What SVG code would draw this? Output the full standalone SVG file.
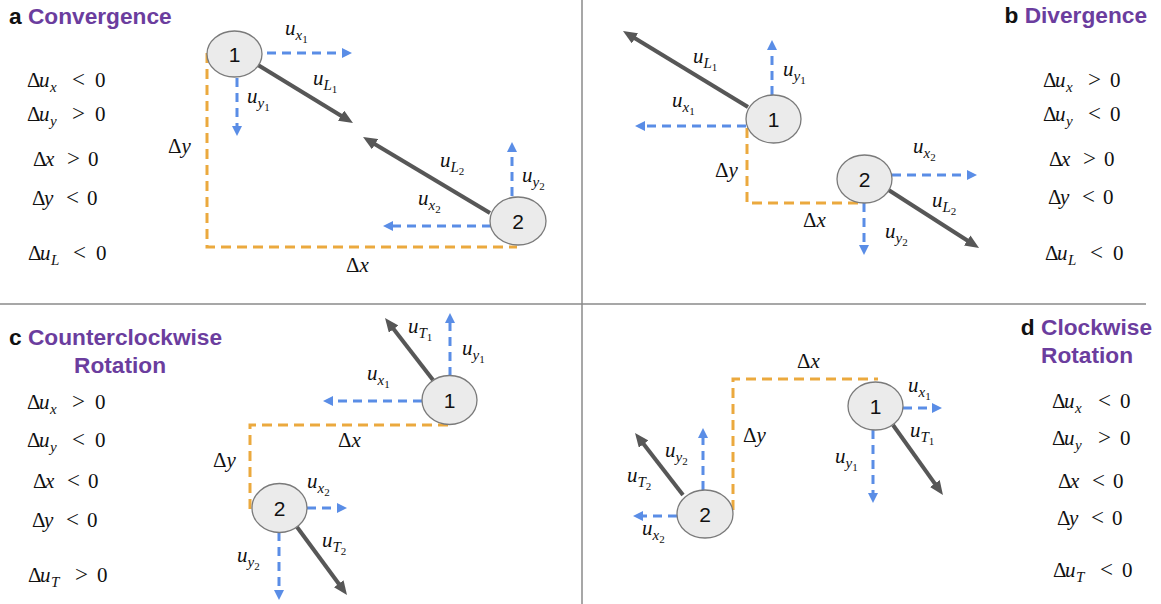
<svg xmlns="http://www.w3.org/2000/svg" width="1161" height="604" viewBox="0 0 1161 604">
<style>
.bg{fill:#fff}
.div{stroke:#8a8a8a;stroke-width:1.5;fill:none}
.title{font-family:"Liberation Sans",Arial,sans-serif;font-weight:bold;font-size:22.7px;fill:#111}
.pur{fill:#6b3d9e}
.m{font-family:"Liberation Serif","Times New Roman",serif;font-size:21px;fill:#111}
.op{font-size:23px}
.i{font-style:italic}
.s1{font-size:15px}
.s2{font-size:11px;font-style:normal}
.num{font-family:"Liberation Sans",Arial,sans-serif;font-size:21px;fill:#111;text-anchor:middle}
.node{fill:#ebebeb;stroke:#7a7a7a;stroke-width:1.3}
.dxy{fill:none;stroke:#eba93e;stroke-width:3;stroke-dasharray:10 6}
.vb{fill:none;stroke:#5a8de6;stroke-width:3;stroke-dasharray:9 6;marker-end:url(#ab)}
.vg{fill:none;stroke:#575757;stroke-width:4;marker-end:url(#ag)}
</style>
<defs>
<marker id="ab" viewBox="0 0 10 10" refX="1" refY="5" markerWidth="10" markerHeight="10" markerUnits="userSpaceOnUse" orient="auto"><path d="M0,0 L10,5 L0,10 z" fill="#5a8de6"/></marker>
<marker id="ag" viewBox="0 0 14 12" refX="1" refY="6" markerWidth="14" markerHeight="12" markerUnits="userSpaceOnUse" orient="auto"><path d="M0,0 L14,6 L0,12 z" fill="#575757"/></marker>
</defs>
<rect class="bg" x="0" y="0" width="1161" height="604"/>
<g id="dividers">
<line class="div" x1="582" y1="0" x2="582" y2="604"/>
<line class="div" x1="0" y1="304" x2="1146" y2="304"/>
</g>

<g id="titles">
<text class="title" x="9" y="24">a <tspan class="pur">Convergence</tspan></text>
<text class="title" x="1147" y="23" text-anchor="end">b <tspan class="pur">Divergence</tspan></text>
<text class="title" x="9" y="345">c <tspan class="pur">Counterclockwise</tspan></text>
<text class="title pur" x="120" y="373" text-anchor="middle">Rotation</text>
<text class="title" x="1152" y="335" text-anchor="end">d <tspan class="pur">Clockwise</tspan></text>
<text class="title pur" x="1087" y="363" text-anchor="middle">Rotation</text>
</g>

<g id="conditions">
<text class="m" y="87"><tspan x="27">Δ</tspan><tspan class="i" x="39">u</tspan><tspan class="i s1" x="50" dy="5">x</tspan><tspan class="op" x="72" dy="-5">&lt;</tspan><tspan x="95">0</tspan></text>
<text class="m" y="121"><tspan x="27">Δ</tspan><tspan class="i" x="39">u</tspan><tspan class="i s1" x="50" dy="5">y</tspan><tspan class="op" x="72" dy="-5">&gt;</tspan><tspan x="95">0</tspan></text>
<text class="m" y="166"><tspan x="33">Δ</tspan><tspan class="i" x="45">x</tspan><tspan class="op" x="67">&gt;</tspan><tspan x="88">0</tspan></text>
<text class="m" y="205"><tspan x="32">Δ</tspan><tspan class="i" x="44">y</tspan><tspan class="op" x="66">&lt;</tspan><tspan x="87">0</tspan></text>
<text class="m" y="260"><tspan x="28">Δ</tspan><tspan class="i" x="40">u</tspan><tspan class="i s1" x="51" dy="5">L</tspan><tspan class="op" x="73" dy="-5">&lt;</tspan><tspan x="96">0</tspan></text>

<text class="m" y="87"><tspan x="1043">Δ</tspan><tspan class="i" x="1055">u</tspan><tspan class="i s1" x="1066" dy="5">x</tspan><tspan class="op" x="1088" dy="-5">&gt;</tspan><tspan x="1110">0</tspan></text>
<text class="m" y="121"><tspan x="1043">Δ</tspan><tspan class="i" x="1055">u</tspan><tspan class="i s1" x="1066" dy="5">y</tspan><tspan class="op" x="1088" dy="-5">&lt;</tspan><tspan x="1110">0</tspan></text>
<text class="m" y="166"><tspan x="1049">Δ</tspan><tspan class="i" x="1061">x</tspan><tspan class="op" x="1083">&gt;</tspan><tspan x="1104">0</tspan></text>
<text class="m" y="204"><tspan x="1048">Δ</tspan><tspan class="i" x="1060">y</tspan><tspan class="op" x="1082">&lt;</tspan><tspan x="1103">0</tspan></text>
<text class="m" y="260"><tspan x="1045">Δ</tspan><tspan class="i" x="1057">u</tspan><tspan class="i s1" x="1068" dy="5">L</tspan><tspan class="op" x="1090" dy="-5">&lt;</tspan><tspan x="1113">0</tspan></text>

<text class="m" y="409"><tspan x="27">Δ</tspan><tspan class="i" x="39">u</tspan><tspan class="i s1" x="50" dy="5">x</tspan><tspan class="op" x="72" dy="-5">&gt;</tspan><tspan x="95">0</tspan></text>
<text class="m" y="447"><tspan x="27">Δ</tspan><tspan class="i" x="39">u</tspan><tspan class="i s1" x="50" dy="5">y</tspan><tspan class="op" x="72" dy="-5">&lt;</tspan><tspan x="95">0</tspan></text>
<text class="m" y="488"><tspan x="33">Δ</tspan><tspan class="i" x="45">x</tspan><tspan class="op" x="67">&lt;</tspan><tspan x="88">0</tspan></text>
<text class="m" y="527"><tspan x="32">Δ</tspan><tspan class="i" x="44">y</tspan><tspan class="op" x="66">&lt;</tspan><tspan x="87">0</tspan></text>
<text class="m" y="582"><tspan x="28">Δ</tspan><tspan class="i" x="40">u</tspan><tspan class="i s1" x="51" dy="5">T</tspan><tspan class="op" x="75" dy="-5">&gt;</tspan><tspan x="97">0</tspan></text>

<text class="m" y="408"><tspan x="1052">Δ</tspan><tspan class="i" x="1064">u</tspan><tspan class="i s1" x="1075" dy="5">x</tspan><tspan class="op" x="1098" dy="-5">&lt;</tspan><tspan x="1120">0</tspan></text>
<text class="m" y="445"><tspan x="1052">Δ</tspan><tspan class="i" x="1064">u</tspan><tspan class="i s1" x="1075" dy="5">y</tspan><tspan class="op" x="1098" dy="-5">&gt;</tspan><tspan x="1120">0</tspan></text>
<text class="m" y="488"><tspan x="1058">Δ</tspan><tspan class="i" x="1070">x</tspan><tspan class="op" x="1092">&lt;</tspan><tspan x="1113">0</tspan></text>
<text class="m" y="525"><tspan x="1057">Δ</tspan><tspan class="i" x="1069">y</tspan><tspan class="op" x="1091">&lt;</tspan><tspan x="1112">0</tspan></text>
<text class="m" y="577"><tspan x="1053">Δ</tspan><tspan class="i" x="1065">u</tspan><tspan class="i s1" x="1076" dy="5">T</tspan><tspan class="op" x="1100" dy="-5">&lt;</tspan><tspan x="1122">0</tspan></text>
</g>

<g id="connectors">
<path class="dxy" d="M207,53 V247 H517"/>
<line class="vb" x1="267" y1="53" x2="343" y2="53"/>
<line class="vb" x1="237" y1="78" x2="237" y2="127"/>
<line class="vb" x1="491" y1="226" x2="392" y2="226"/>
<line class="vb" x1="512" y1="196" x2="512" y2="151"/>
<line class="vg" x1="258" y1="65" x2="341.9" y2="116.2"/>
<line class="vg" x1="490" y1="213" x2="374.2" y2="143.7"/>
<path class="dxy" d="M747,128 V203 H863"/>
<line class="vb" x1="746" y1="126" x2="644" y2="126"/>
<line class="vb" x1="772" y1="95" x2="772" y2="49"/>
<line class="vb" x1="892" y1="175" x2="968" y2="175"/>
<line class="vb" x1="864" y1="203" x2="864" y2="246"/>
<line class="vg" x1="748" y1="107" x2="634.1" y2="37.8"/>
<line class="vg" x1="887" y1="189" x2="968.1" y2="241"/>
<path class="dxy" d="M448,425 H250 V512"/>
<line class="vb" x1="422" y1="401" x2="332" y2="401"/>
<line class="vb" x1="450" y1="376" x2="450" y2="322"/>
<line class="vb" x1="307" y1="508" x2="338" y2="508"/>
<line class="vb" x1="279" y1="532" x2="279" y2="591"/>
<line class="vg" x1="433" y1="380" x2="393" y2="328.3"/>
<line class="vg" x1="297" y1="527" x2="339.3" y2="584.5"/>
<path class="dxy" d="M733,510 V379 H878"/>
<line class="vb" x1="903" y1="408" x2="933" y2="408"/>
<line class="vb" x1="873" y1="430" x2="873" y2="494"/>
<line class="vb" x1="703" y1="490" x2="703" y2="437"/>
<line class="vb" x1="677" y1="516" x2="642" y2="516"/>
<line class="vg" x1="893" y1="425" x2="935.4" y2="484.4"/>
<line class="vg" x1="683" y1="495" x2="643" y2="443.3"/>
</g>

<g id="a-node1"><ellipse class="node" cx="234.5" cy="54" rx="27.5" ry="23"/><text class="num" x="234.5" y="61.5">1</text></g>
<g id="a-node2"><ellipse class="node" cx="518" cy="221" rx="28" ry="24"/><text class="num" x="518" y="228.5">2</text></g>
<g id="b-node1"><ellipse class="node" cx="773.5" cy="119" rx="27.5" ry="24"/><text class="num" x="773.5" y="126.5">1</text></g>
<g id="b-node2"><ellipse class="node" cx="864.5" cy="179" rx="27.5" ry="24"/><text class="num" x="864.5" y="186.5">2</text></g>
<g id="c-node1"><ellipse class="node" cx="449.5" cy="400" rx="27.5" ry="24.5"/><text class="num" x="449.5" y="407.5">1</text></g>
<g id="c-node2"><ellipse class="node" cx="279.5" cy="508" rx="27.5" ry="24.5"/><text class="num" x="279.5" y="515.5">2</text></g>
<g id="d-node1"><ellipse class="node" cx="875.5" cy="406" rx="27.5" ry="24"/><text class="num" x="875.5" y="413.5">1</text></g>
<g id="d-node2"><ellipse class="node" cx="705" cy="514" rx="28" ry="24"/><text class="num" x="705" y="521.5">2</text></g>

<g id="labels">
<text class="m" x="285" y="35"><tspan class="i">u</tspan><tspan class="i s1" dy="5">x</tspan><tspan class="s2" dy="3">1</tspan></text>
<text class="m" x="313" y="85"><tspan class="i">u</tspan><tspan class="i s1" dy="5">L</tspan><tspan class="s2" dy="3">1</tspan></text>
<text class="m" x="247" y="103"><tspan class="i">u</tspan><tspan class="i s1" dy="5">y</tspan><tspan class="s2" dy="3">1</tspan></text>
<text class="m" x="440" y="167"><tspan class="i">u</tspan><tspan class="i s1" dy="5">L</tspan><tspan class="s2" dy="3">2</tspan></text>
<text class="m" x="522" y="182"><tspan class="i">u</tspan><tspan class="i s1" dy="5">y</tspan><tspan class="s2" dy="3">2</tspan></text>
<text class="m" x="418" y="205"><tspan class="i">u</tspan><tspan class="i s1" dy="5">x</tspan><tspan class="s2" dy="3">2</tspan></text>
<text class="m" x="168" y="153">Δ<tspan class="i">y</tspan></text>
<text class="m" x="346" y="272">Δ<tspan class="i">x</tspan></text>
<text class="m" x="693" y="63"><tspan class="i">u</tspan><tspan class="i s1" dy="5">L</tspan><tspan class="s2" dy="3">1</tspan></text>
<text class="m" x="783" y="76"><tspan class="i">u</tspan><tspan class="i s1" dy="5">y</tspan><tspan class="s2" dy="3">1</tspan></text>
<text class="m" x="672" y="107"><tspan class="i">u</tspan><tspan class="i s1" dy="5">x</tspan><tspan class="s2" dy="3">1</tspan></text>
<text class="m" x="715" y="177">Δ<tspan class="i">y</tspan></text>
<text class="m" x="803" y="227">Δ<tspan class="i">x</tspan></text>
<text class="m" x="913" y="153"><tspan class="i">u</tspan><tspan class="i s1" dy="5">x</tspan><tspan class="s2" dy="3">2</tspan></text>
<text class="m" x="932" y="207"><tspan class="i">u</tspan><tspan class="i s1" dy="5">L</tspan><tspan class="s2" dy="3">2</tspan></text>
<text class="m" x="885" y="238"><tspan class="i">u</tspan><tspan class="i s1" dy="5">y</tspan><tspan class="s2" dy="3">2</tspan></text>
<text class="m" x="408" y="333"><tspan class="i">u</tspan><tspan class="i s1" dy="5">T</tspan><tspan class="s2" dy="3">1</tspan></text>
<text class="m" x="462" y="355"><tspan class="i">u</tspan><tspan class="i s1" dy="5">y</tspan><tspan class="s2" dy="3">1</tspan></text>
<text class="m" x="367" y="380"><tspan class="i">u</tspan><tspan class="i s1" dy="5">x</tspan><tspan class="s2" dy="3">1</tspan></text>
<text class="m" x="338" y="447">Δ<tspan class="i">x</tspan></text>
<text class="m" x="213" y="467">Δ<tspan class="i">y</tspan></text>
<text class="m" x="307" y="488"><tspan class="i">u</tspan><tspan class="i s1" dy="5">x</tspan><tspan class="s2" dy="3">2</tspan></text>
<text class="m" x="322" y="547"><tspan class="i">u</tspan><tspan class="i s1" dy="5">T</tspan><tspan class="s2" dy="3">2</tspan></text>
<text class="m" x="237" y="562"><tspan class="i">u</tspan><tspan class="i s1" dy="5">y</tspan><tspan class="s2" dy="3">2</tspan></text>
<text class="m" x="797" y="368">Δ<tspan class="i">x</tspan></text>
<text class="m" x="908" y="392"><tspan class="i">u</tspan><tspan class="i s1" dy="5">x</tspan><tspan class="s2" dy="3">1</tspan></text>
<text class="m" x="910" y="437"><tspan class="i">u</tspan><tspan class="i s1" dy="5">T</tspan><tspan class="s2" dy="3">1</tspan></text>
<text class="m" x="743" y="442">Δ<tspan class="i">y</tspan></text>
<text class="m" x="835" y="463"><tspan class="i">u</tspan><tspan class="i s1" dy="5">y</tspan><tspan class="s2" dy="3">1</tspan></text>
<text class="m" x="665" y="457"><tspan class="i">u</tspan><tspan class="i s1" dy="5">y</tspan><tspan class="s2" dy="3">2</tspan></text>
<text class="m" x="627" y="482"><tspan class="i">u</tspan><tspan class="i s1" dy="5">T</tspan><tspan class="s2" dy="3">2</tspan></text>
<text class="m" x="642" y="535"><tspan class="i">u</tspan><tspan class="i s1" dy="5">x</tspan><tspan class="s2" dy="3">2</tspan></text>
</g>
</svg>
